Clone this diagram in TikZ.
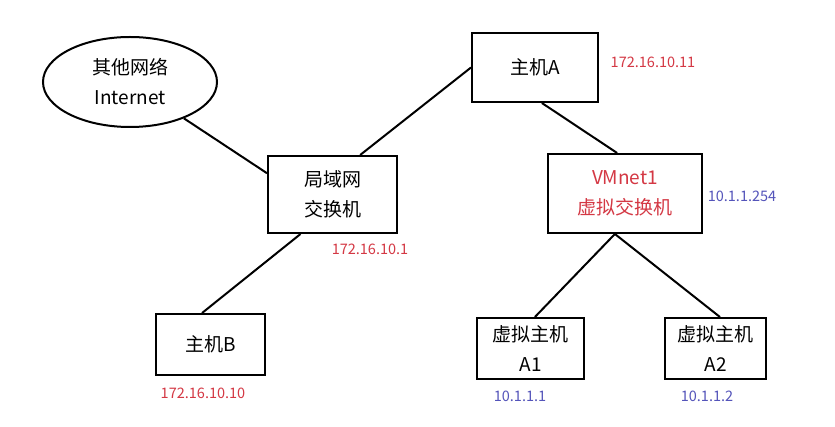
\documentclass[tikz,border=0pt]{standalone}
\usepackage{fontspec}
\setmainfont{Noto Sans CJK SC}
\usetikzlibrary{shapes.geometric}
\definecolor{ipred}{RGB}{212,56,68}
\definecolor{ipblue}{RGB}{84,84,186}
\tikzset{
  box/.style={draw, line width=2pt, rectangle, inner sep=0pt, align=center,
    font=\fontsize{19}{30}\selectfont},
  cloud/.style={draw, line width=2pt, ellipse, inner sep=0pt, align=center,
    minimum width=174pt, minimum height=90pt, font=\fontsize{19}{30}\selectfont},
  ip/.style={inner sep=0pt, font=\fontsize{14.5}{17}\selectfont},
  link/.style={line width=2pt}
}

\begin{document}
\begin{tikzpicture}[x=1pt, y=-1pt]
  \useasboundingbox[fill=white] (0,0) rectangle (835,427);

  % nodes
  \node[cloud] (net) at (130,82) {其他网络\\Internet};
  \node[box, minimum width=129pt, minimum height=77pt] (lan) at (332.5,194.5) {局域网\\交换机};
  \node[box, minimum width=126pt, minimum height=69pt] (hostA) at (535,67.5) {主机A};
  \node[box, minimum width=154pt, minimum height=79pt, text=ipred] (vmnet) at (625,193.5) {VMnet1\\虚拟交换机};
  \node[box, minimum width=109pt, minimum height=61pt] (hostB) at (210.5,344.5) {主机B};
  \node[box, minimum width=107pt, minimum height=61pt] (vmA1) at (530.5,348.5) {虚拟主机\\A1};
  \node[box, minimum width=101pt, minimum height=61pt] (vmA2) at (715.5,348.5) {虚拟主机\\A2};

  % addresses
  \node[ip, text=ipred] (ipA) at (653,62) {172.16.10.11};
  \node[ip, text=ipred] (iplan) at (370,249) {172.16.10.1};
  \node[ip, text=ipblue] (ipvm) at (742,196) {10.1.1.254};
  \node[ip, text=ipred] (ipB) at (203,393) {172.16.10.10};
  \node[ip, text=ipblue] (ipA1) at (520,396) {10.1.1.1};
  \node[ip, text=ipblue] (ipA2) at (707,396) {10.1.1.2};

  % links
  \draw[link] (net.-34) -- (lan.162);
  \draw[link] (lan.55) -- (hostA.west);
  \draw[link] (hostA.-79) -- (vmnet.101);
  \draw[link] (lan.-129.5) -- (hostB.105);
  \draw[link] (vmnet.-104) -- (vmA1.82);
  \draw[link] (vmnet.-104) -- (vmA2.82);
\end{tikzpicture}
\end{document}
